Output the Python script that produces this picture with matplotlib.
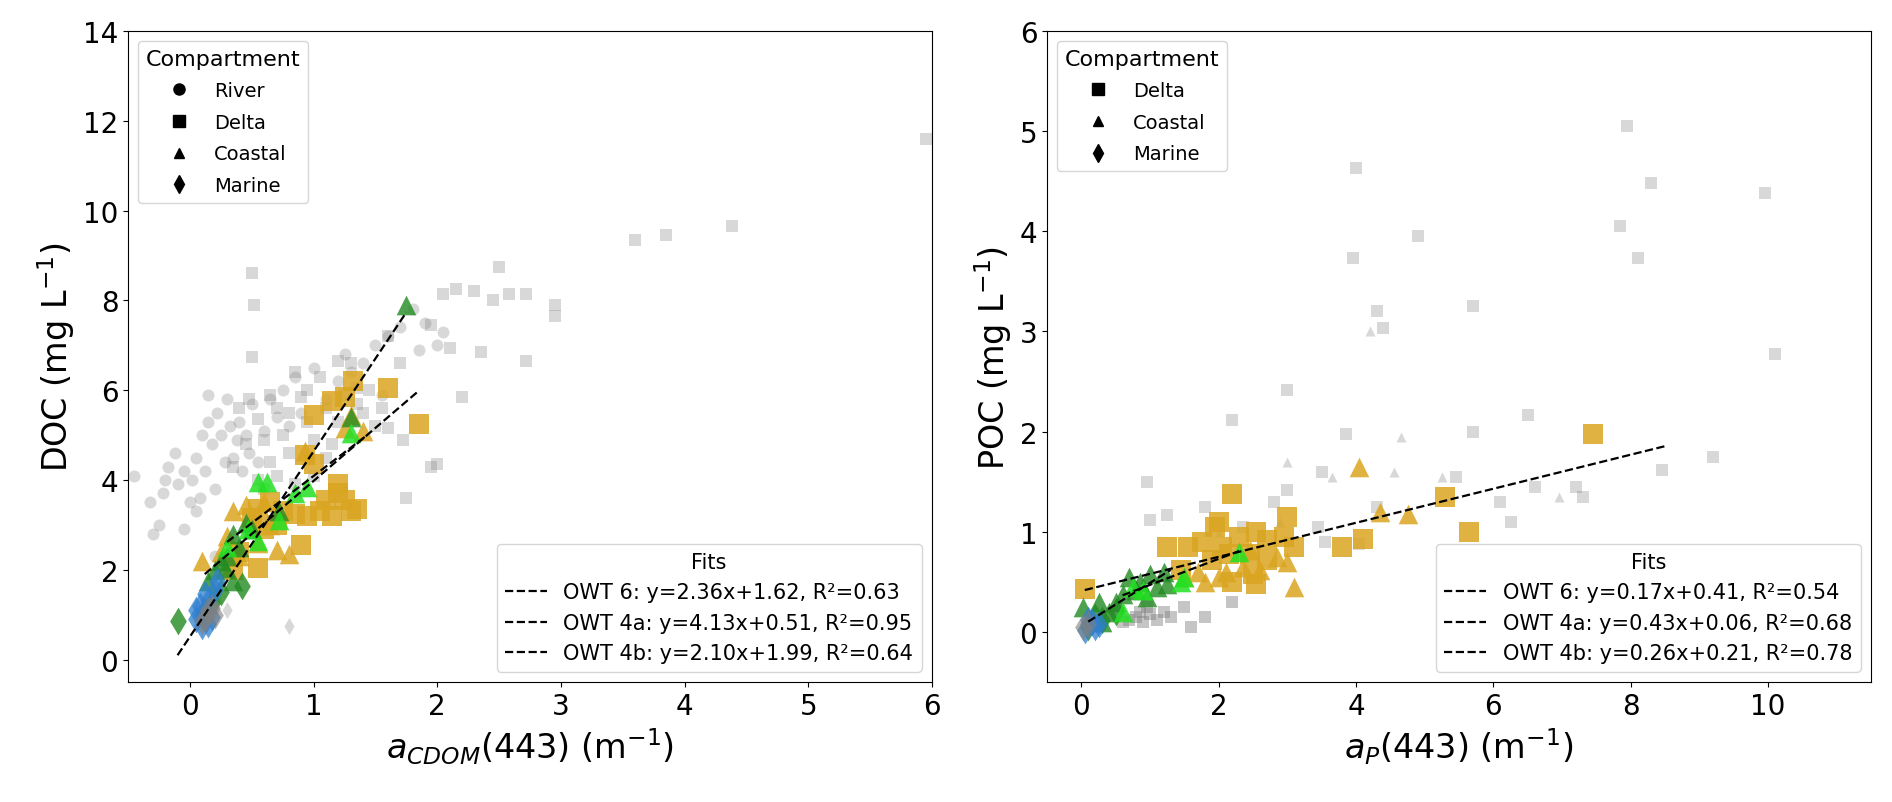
import matplotlib
matplotlib.use("Agg")
import matplotlib.pyplot as plt
from matplotlib.lines import Line2D
import numpy as np

# ---------------- LEFT PANEL DATA (aCDOM vs DOC) ----------------
L_bg_river_x = [-0.45,-0.32,-0.3,-0.25,-0.22,-0.18,-0.12,-0.1,-0.05,0.0,0.02,0.05,0.08,0.1,0.12,0.15,0.15,0.18,0.2,0.22,0.25,0.28,0.3,0.32,0.35,0.38,0.4,0.42,0.45,0.48,0.5,0.55,0.6,0.65,0.7,0.75,0.8,0.85,0.9,1.0,1.1,1.2,1.25,1.3,1.4,1.5,1.55,1.6,1.7,1.8,1.85,1.9,2.0,2.05,0.2,-0.05,0.05,-0.2]
L_bg_river_y = [4.1,3.5,2.8,3.0,3.7,4.3,4.6,3.9,4.2,3.5,4.0,4.5,3.6,5.0,4.2,5.9,5.3,4.8,3.8,5.5,5.0,4.4,5.8,5.2,4.5,4.9,5.3,4.2,5.0,4.6,5.7,4.4,5.1,5.8,5.4,6.0,5.2,6.3,5.5,6.5,5.8,6.2,6.8,6.4,6.6,7.0,5.9,7.2,7.4,7.8,6.9,7.5,7.0,7.3,2.3,2.9,3.3,4.0]
L_bg_delta_x = [5.95,4.38,3.85,3.6,2.95,2.95,2.72,2.58,2.5,2.45,2.3,2.15,2.05,1.95,2.1,2.35,2.72,2.2,2.0,1.95,1.75,1.72,1.6,0.5,0.52,0.5,0.48,0.55,0.6,0.65,0.7,0.75,0.8,0.85,0.9,0.95,1.0,1.05,1.1,1.15,1.2,1.25,1.3,1.35,1.4,1.45,1.5,1.55,1.6,1.7,0.4,0.35,0.45,0.6,0.7,0.85,1.0,1.1,0.55,0.8,0.95,1.2,1.35,0.65]
L_bg_delta_y = [11.6,9.65,9.45,9.35,7.9,7.65,8.15,8.15,8.75,8.0,8.2,8.25,8.15,7.45,6.95,6.85,6.65,5.85,4.35,4.3,3.6,4.9,5.15,8.6,7.9,6.75,5.8,5.35,4.9,4.4,5.6,5.0,4.6,6.4,5.85,5.3,4.9,6.3,5.6,4.8,6.65,5.9,6.6,6.05,5.5,6.0,5.2,5.6,7.2,6.6,5.6,4.3,4.8,3.8,4.1,3.9,4.1,4.5,4.0,5.5,6.0,5.3,5.7,5.9]
L_bg_marine_x = [0.8,0.3,0.22]
L_bg_marine_y = [0.75,1.1,1.3]

L_owt6_delta_x = [1.6,1.85,1.32,1.25,1.15,1.0,0.93,1.0,1.2,1.25,1.3,1.35,1.1,1.05,0.95,0.85,1.15,0.75,0.65,0.55,0.5,0.55,0.4,0.35,0.9,0.7,0.6,1.2]
L_owt6_delta_y = [6.05,5.25,6.2,5.85,5.75,5.45,4.55,4.35,3.9,3.55,3.3,3.35,3.55,3.3,3.2,3.25,3.2,3.3,3.5,3.35,3.15,2.05,2.4,2.0,2.55,3.0,2.9,3.7]
L_owt6_coastal_x = [1.3,1.25,1.4,0.93,0.6,0.45,0.35,0.3,0.25,0.55,0.7,0.8,0.1,0.4,0.5,0.65]
L_owt6_coastal_y = [5.45,5.15,5.1,4.65,3.5,3.45,3.3,2.75,2.4,2.6,2.45,2.35,2.2,2.3,3.1,3.0]
L_owt4a_coastal_x = [1.75,1.3,0.35,0.45,0.4,0.25,0.2,0.15,0.3,0.35,0.72,0.5,0.28]
L_owt4a_coastal_y = [7.9,5.4,2.8,3.05,2.5,2.2,2.0,1.75,2.3,1.75,3.3,2.9,2.05]
L_owt4a_marine_x = [-0.1,0.42,0.18,0.12,0.25]
L_owt4a_marine_y = [0.85,1.65,1.25,1.05,1.5]
L_owt4b_coastal_x = [0.55,0.62,0.95,0.72,0.3,0.47,1.3,0.55,0.85]
L_owt4b_coastal_y = [3.95,3.95,3.85,3.1,2.5,2.9,5.05,2.65,3.7]
L_owt3_marine_x = [0.05,0.1,0.15,0.2,0.22,0.1,0.15,0.05,0.08,0.12,0.18]
L_owt3_marine_y = [0.9,1.0,1.3,1.55,1.75,0.75,0.8,1.1,1.2,1.45,0.95]
L_other_marine_x = [0.12,0.15,0.18,0.1,0.2]
L_other_marine_y = [0.9,1.1,1.15,0.85,1.0]

L_fit_labels = ["OWT 6: y=2.36x+1.62, R\u00b2=0.63",
                "OWT 4a: y=4.13x+0.51, R\u00b2=0.95",
                "OWT 4b: y=2.10x+1.99, R\u00b2=0.64"]
L_fit_slope = [2.36, 4.13, 2.10]
L_fit_icpt = [1.62, 0.51, 1.99]
L_fit_xmin = [0.12, -0.1, 0.3]
L_fit_xmax = [1.85, 1.75, 1.43]

# ---------------- RIGHT PANEL DATA (aP vs POC) ----------------
R_bg_delta_x = [7.95,8.3,9.95,7.85,4.0,3.95,4.9,8.1,4.3,4.4,5.7,3.0,6.5,10.1,9.2,2.2,3.85,5.7,8.45,7.3,6.1,6.25,5.45,4.3,3.5,3.0,0.95,1.0,1.25,4.05,3.45,2.8,3.55,1.8,2.35,7.2,6.6]
R_bg_delta_y = [5.05,4.48,4.38,4.05,4.63,3.73,3.95,3.73,3.2,3.03,3.25,2.42,2.17,2.78,1.75,2.12,1.98,2.0,1.62,1.35,1.3,1.1,1.55,1.25,1.6,1.42,1.5,1.12,1.17,0.88,1.05,1.3,0.9,1.25,1.05,1.45,1.45]
R_bg_coastal_x = [4.2,4.65,3.0,4.55,5.25,6.95,3.65,2.9,2.0]
R_bg_coastal_y = [3.0,1.95,1.7,1.6,1.55,1.35,1.55,1.1,1.0]
R_dark_x = [0.7,0.8,0.9,1.0,1.1,1.2,0.95,0.6,1.3,0.85,1.5,1.8,2.2,1.6]
R_dark_y = [0.12,0.15,0.1,0.18,0.12,0.2,0.25,0.1,0.15,0.2,0.25,0.15,0.3,0.05]

R_owt6_delta_x = [7.45,5.3,5.65,4.1,3.8,2.2,1.75,1.95,2.3,2.05,1.55,1.25,2.55,2.7,2.95,3.0,2.7,3.1,2.2,2.5,0.05,1.45,2.15,1.9,2.45,2.55,2.0]
R_owt6_delta_y = [1.98,1.35,1.0,0.93,0.85,1.38,0.9,1.05,0.95,0.85,0.85,0.85,1.0,0.92,0.95,1.15,0.72,0.85,0.5,0.58,0.43,0.62,0.78,0.72,0.78,0.48,1.1]
R_owt6_coastal_x = [4.05,4.35,4.75,3.1,2.1,1.8,2.6,2.85,3.0,1.5,1.7,2.35,2.0,2.45]
R_owt6_coastal_y = [1.65,1.2,1.18,0.45,0.6,0.5,0.62,0.75,0.7,0.55,0.6,0.65,0.55,0.82]
R_owt4a_coastal_x = [0.02,0.3,0.5,0.7,0.85,1.0,1.2,0.6,0.95,0.25,1.25,0.4,0.8,1.1]
R_owt4a_coastal_y = [0.25,0.1,0.3,0.55,0.5,0.58,0.6,0.38,0.35,0.3,0.48,0.2,0.42,0.45]
R_owt4a_marine_x = [0.1,0.3,0.5,0.2]
R_owt4a_marine_y = [0.05,0.12,0.2,0.15]
R_owt4b_coastal_x = [1.5,0.6,0.9,0.75,1.45,2.3]
R_owt4b_coastal_y = [0.55,0.2,0.42,0.45,0.5,0.8]
R_owt3_marine_x = [0.05,0.2,0.15,0.25,0.1]
R_owt3_marine_y = [0.02,0.05,0.1,0.08,0.12]
R_other_marine_x = [0.02,0.1]
R_other_marine_y = [0.05,0.08]

R_fit_labels = ["OWT 6: y=0.17x+0.41, R\u00b2=0.54",
                "OWT 4a: y=0.43x+0.06, R\u00b2=0.68",
                "OWT 4b: y=0.26x+0.21, R\u00b2=0.78"]
R_fit_slope = [0.17, 0.43, 0.26]
R_fit_icpt = [0.41, 0.06, 0.21]
R_fit_xmin = [0.05, 0.1, 0.6]
R_fit_xmax = [8.5, 1.3, 2.3]

# ---------------- STYLE ----------------
C_BG = "gray"
C_OWT6 = "#DAA520"
C_OWT4A = "#228B22"
C_OWT4B = "#22E022"
C_OWT3 = "#2F7FD0"
S_BG = 75
S_COL = 200

fig = plt.figure(figsize=(18.92, 8.03), dpi=100)
axL = fig.add_axes([0.0677, 0.1494, 0.4249, 0.8107])
axR = fig.add_axes([0.5534, 0.1494, 0.4355, 0.8107])


def sc(ax, x, y, m, c, s, a):
    ax.scatter(x, y, marker=m, c=c, s=s, alpha=a, linewidths=0)


# left panel
sc(axL, L_bg_river_x, L_bg_river_y, 'o', C_BG, S_BG, 0.3)
sc(axL, L_bg_delta_x, L_bg_delta_y, 's', C_BG, S_BG, 0.3)
sc(axL, L_bg_marine_x, L_bg_marine_y, 'd', C_BG, S_BG, 0.3)
sc(axL, L_owt6_delta_x, L_owt6_delta_y, 's', C_OWT6, S_COL, 0.85)
sc(axL, L_owt6_coastal_x, L_owt6_coastal_y, '^', C_OWT6, S_COL, 0.85)
sc(axL, L_owt4a_coastal_x, L_owt4a_coastal_y, '^', C_OWT4A, S_COL, 0.8)
sc(axL, L_owt4a_marine_x, L_owt4a_marine_y, 'd', C_OWT4A, S_COL, 0.8)
sc(axL, L_owt4b_coastal_x, L_owt4b_coastal_y, '^', C_OWT4B, S_COL, 0.85)
sc(axL, L_owt3_marine_x, L_owt3_marine_y, 'd', C_OWT3, S_COL, 0.75)
sc(axL, L_other_marine_x, L_other_marine_y, 'd', 'gray', S_COL, 0.6)

fitL = []
for lab, a, b, x0, x1 in zip(L_fit_labels, L_fit_slope, L_fit_icpt, L_fit_xmin, L_fit_xmax):
    xx = np.array([x0, x1])
    h, = axL.plot(xx, a * xx + b, 'k--', lw=1.6, label=lab)
    fitL.append(h)

# right panel
sc(axR, R_bg_delta_x, R_bg_delta_y, 's', C_BG, S_BG, 0.3)
sc(axR, R_bg_coastal_x, R_bg_coastal_y, '^', C_BG, S_BG * 0.7, 0.3)
sc(axR, R_dark_x, R_dark_y, 's', C_BG, S_BG, 0.45)
sc(axR, R_owt6_delta_x, R_owt6_delta_y, 's', C_OWT6, S_COL, 0.85)
sc(axR, R_owt6_coastal_x, R_owt6_coastal_y, '^', C_OWT6, S_COL, 0.85)
sc(axR, R_owt4a_coastal_x, R_owt4a_coastal_y, '^', C_OWT4A, S_COL, 0.8)
sc(axR, R_owt4a_marine_x, R_owt4a_marine_y, 'd', C_OWT4A, S_COL, 0.8)
sc(axR, R_owt4b_coastal_x, R_owt4b_coastal_y, '^', C_OWT4B, S_COL, 0.85)
sc(axR, R_owt3_marine_x, R_owt3_marine_y, 'd', C_OWT3, S_COL, 0.75)
sc(axR, R_other_marine_x, R_other_marine_y, 'd', 'gray', S_COL, 0.6)

fitR = []
for lab, a, b, x0, x1 in zip(R_fit_labels, R_fit_slope, R_fit_icpt, R_fit_xmin, R_fit_xmax):
    xx = np.array([x0, x1])
    h, = axR.plot(xx, a * xx + b, 'k--', lw=1.6, label=lab)
    fitR.append(h)

# axes
axL.set_xlim(-0.5, 6.0)
axL.set_ylim(-0.5, 14)
axL.set_xticks([0, 1, 2, 3, 4, 5, 6])
axL.set_yticks([0, 2, 4, 6, 8, 10, 12, 14])
axR.set_xlim(-0.5, 11.5)
axR.set_ylim(-0.5, 6)
axR.set_xticks([0, 2, 4, 6, 8, 10])
axR.set_yticks([0, 1, 2, 3, 4, 5, 6])

for ax in (axL, axR):
    ax.tick_params(labelsize=20)

axL.set_ylabel("DOC (mg L$^{-1}$)", fontsize=24)
axL.set_xlabel("$a_{CDOM}$(443) (m$^{-1}$)", fontsize=24)
axR.set_ylabel("POC (mg L$^{-1}$)", fontsize=24)
axR.set_xlabel("$a_{P}$(443) (m$^{-1}$)", fontsize=24)

comp_names_L = ["River", "Delta", "Coastal", "Marine"]
comp_marks_L = ['o', 's', '^', 'd']
comp_names_R = ["Delta", "Coastal", "Marine"]
comp_marks_R = ['s', '^', 'd']
comp_msize = {'o': 8, 's': 8, '^': 6.5, 'd': 9}


def comp_handles(names, marks):
    return [Line2D([], [], ls='none', marker=m, color='k', markersize=comp_msize[m], label=n)
            for n, m in zip(names, marks)]


legL1 = axL.legend(handles=comp_handles(comp_names_L, comp_marks_L), title="Compartment",
                   loc='upper left', fontsize=14, title_fontsize=16, labelspacing=0.65)
axL.add_artist(legL1)
axL.legend(handles=fitL, title="Fits", loc='lower right', fontsize=15, title_fontsize=15)

legR1 = axR.legend(handles=comp_handles(comp_names_R, comp_marks_R), title="Compartment",
                   loc='upper left', fontsize=14, title_fontsize=16, labelspacing=0.65)
axR.add_artist(legR1)
axR.legend(handles=fitR, title="Fits", loc='lower right', fontsize=15, title_fontsize=15)

fig.savefig("out.png", dpi=100)
